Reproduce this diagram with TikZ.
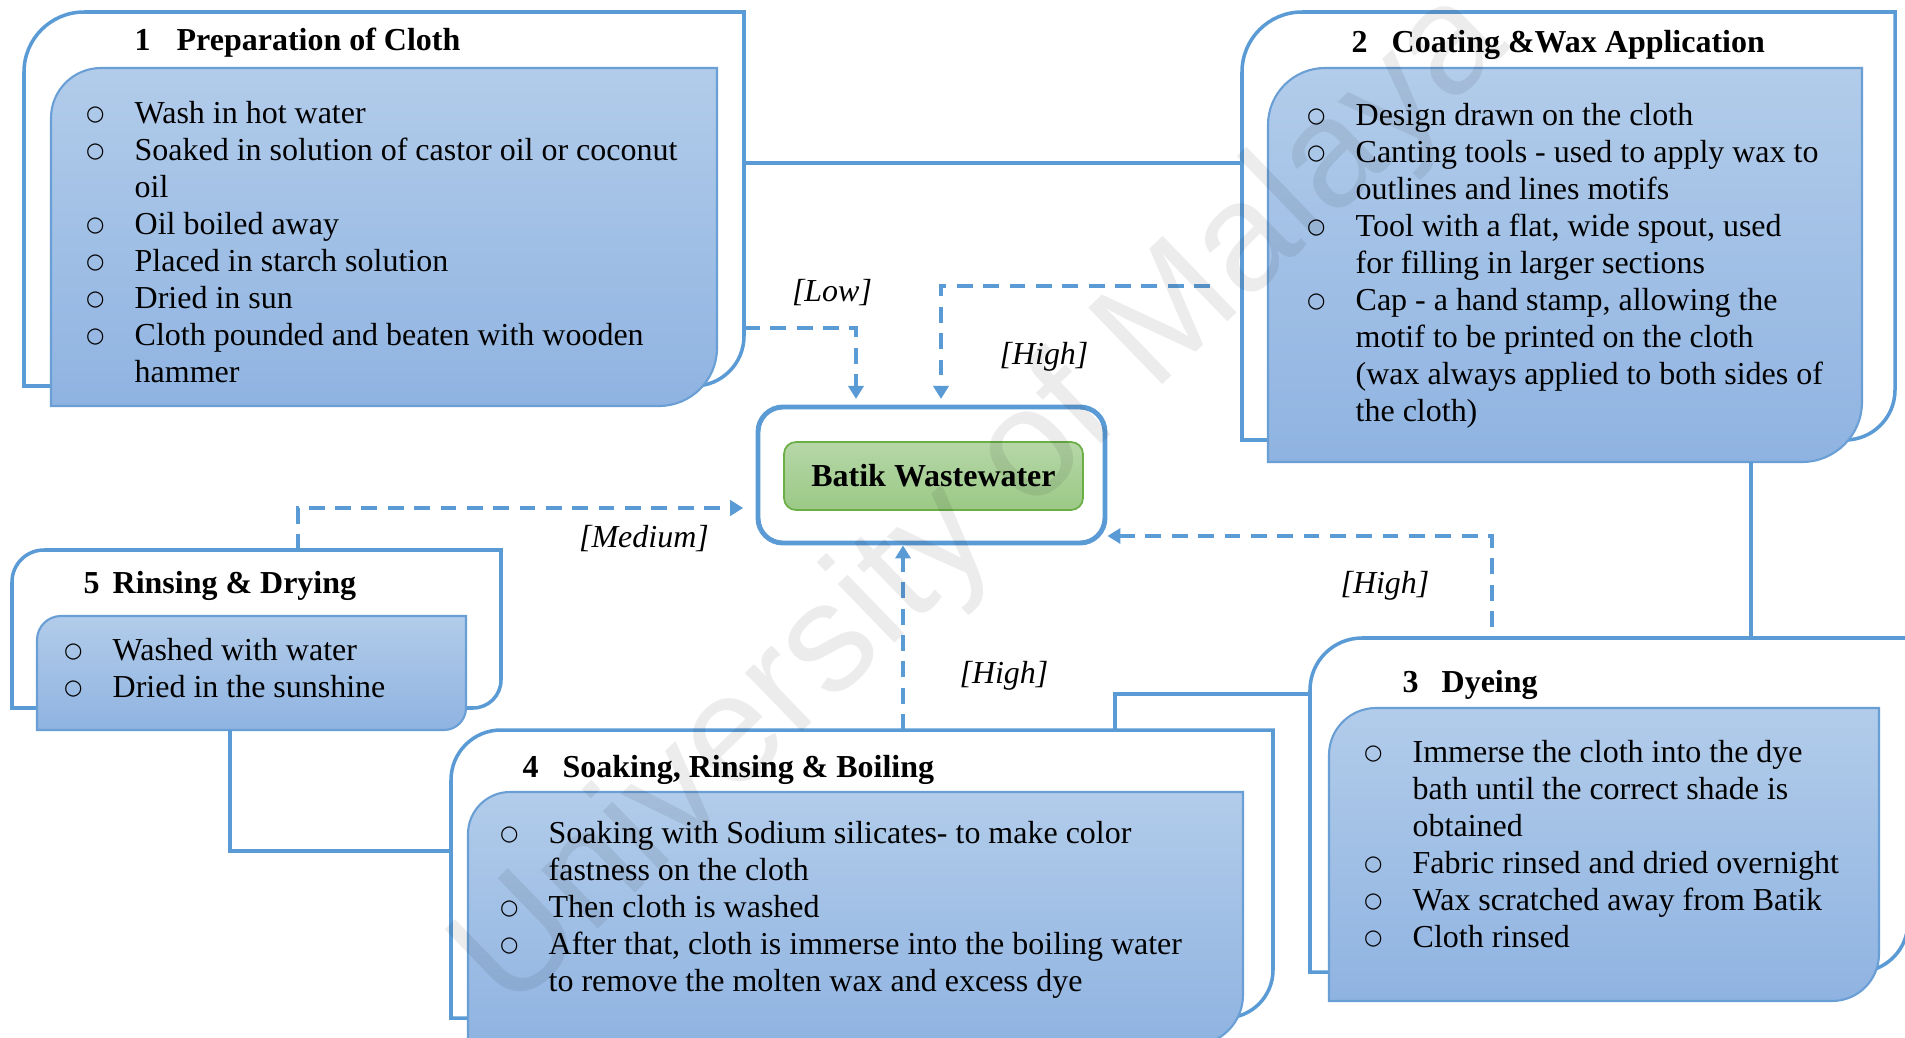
\documentclass[tikz,border=0pt]{standalone}
\usepackage{fontspec}
\setmainfont{Liberation Serif}
\newfontfamily\bulletfont{DejaVu Sans}
\newfontfamily\wmfont{Liberation Sans}
\usetikzlibrary{arrows.meta,fit,calc}
\definecolor{frameblue}{HTML}{5B9BD5}
\definecolor{innerborder}{HTML}{6A9FD6}
\definecolor{gradtop}{HTML}{B2CCEA}
\definecolor{gradbot}{HTML}{8FB3E1}
\definecolor{greentop}{HTML}{B6D7A8}
\definecolor{greenbot}{HTML}{9BC986}
\definecolor{greenborder}{HTML}{6AAE45}
\newcommand\bul{\makebox[4.86mm][l]{\raisebox{0.6pt}{\bulletfont\fontsize{6}{7}\selectfont ○}}}
% name, x1, y1, x2, y2, r1 (top-left), r2 (bottom-right), style
\newcommand\cardshape[8]{%
  \path[#8] (#2,#5) -- (#2,#3+#6) arc(180:270:#6) -- (#4,#3) -- (#4,#5-#7) arc(0:90:#7) -- cycle;
  \node[fit={(#2,#3) (#4,#5)}, inner sep=0pt, outer sep=0pt] (#1) {};
}
\begin{document}
\begin{tikzpicture}[x=0.1mm, y=-0.1mm,
  cardframe/.style={draw=frameblue, line width=1pt, fill=white},
  cardinner/.style={draw=innerborder, line width=0.6pt, top color=gradtop, bottom color=gradbot},
  conn/.style={draw=frameblue, line width=1.3pt},
  dconn/.style={draw=frameblue, line width=0.95pt, dash pattern=on 4.5pt off 3pt,
    -{Triangle[length=3.7pt,width=4.3pt]}},
  body/.style={anchor=base west, inner sep=0pt, font=\fontsize{9.1}{10.53}\selectfont},
  ttl/.style={anchor=base west, inner sep=0pt, font=\bfseries\fontsize{9.1}{10.53}\selectfont},
  lbl/.style={inner sep=0pt, font=\itshape\fontsize{9.1}{10.53}\selectfont}]
\useasboundingbox (0,0) rectangle (1905,1038);
\clip (0,0) rectangle (1905,1038);
\fill[white] (0,0) rectangle (1905,1038);

% step cards
\cardshape{b1}{24}{12}{744}{386}{60}{50}{cardframe}
\cardshape{b1i}{51}{68}{717}{406}{50}{58}{cardinner}
\cardshape{b2}{1242}{12}{1895}{440}{60}{50}{cardframe}
\cardshape{b2i}{1268}{68}{1862}{462}{57}{60}{cardinner}
\cardshape{b3}{1310}{638}{1908}{972}{52}{50}{cardframe}
\cardshape{b3i}{1329}{708}{1879}{1001}{47}{47}{cardinner}
\cardshape{b4}{451}{730}{1273}{1018}{50}{48}{cardframe}
\cardshape{b4i}{468}{792}{1243}{1045}{42}{50}{cardinner}
\cardshape{b5}{12}{550}{501}{708}{32}{28}{cardframe}
\cardshape{b5i}{37}{616}{466}{730}{24}{22}{cardinner}

% centre
\node[draw=frameblue, line width=1.4pt, rounded corners=2.5mm, fill=white,
      minimum width=34.7mm, minimum height=13.6mm, inner sep=0pt] (ww) at (931.5,475) {};
\node[draw=greenborder, line width=0.5pt, rounded corners=1.2mm, top color=greentop, bottom color=greenbot,
      minimum width=29.9mm, minimum height=6.8mm, inner sep=0pt,
      font=\bfseries\fontsize{9.1}{10.53}\selectfont] (bw) at (933.5,476) {Batik Wastewater};

% solid connectors
\draw[conn] (b1.east |- 0,163) -- (b2.west |- 0,163);
\draw[conn] (1751,0 |- b2i.south) -- (1751,0 |- b3.north);
\draw[conn] (b3.west |- 0,694) -| (1115,0 |- b4.north);
\draw[conn] (b4.west |- 0,851) -| (230,0 |- b5i.south);

% dashed connectors
\coordinate (h2s) at (1210,286);
\coordinate (h3s) at (1492,627);
\draw[dconn, shorten >=1.6pt] (b1.east |- 0,328) -| (856,0 |- ww.north);
\draw[dconn, shorten >=1.6pt] (h2s) -| (941,0 |- ww.north);
\draw[dconn, shorten >=3.5pt] (298,0 |- b5.north) |- (ww.west |- 0,508);
\draw[dconn] (903,0 |- b4.north) -- (903,0 |- ww.south);
\draw[dconn] (h3s) |- (ww.east |- 0,536);

% labels
\node[lbl] (lLow) at (832,293) {[Low]};
\node[lbl] (lHighA) at (1044,357) {[High]};
\node[lbl] (lMed) at (644,539) {[Medium]};
\node[lbl] (lHighB) at (1004,676) {[High]};
\node[lbl] (lHighC) at (1385,586) {[High]};

% titles
\node[ttl] (t1) at (134,50) {\makebox[4.2mm][l]{1}Preparation of Cloth};
\node[ttl] (t2) at (1351,52) {\makebox[4.0mm][l]{2}Coating \&Wax Application};
\node[ttl] (t3) at (1402,692) {\makebox[3.9mm][l]{3}Dyeing};
\node[ttl] (t4) at (522,777) {\makebox[4.0mm][l]{4}Soaking, Rinsing \& Boiling};
\node[ttl] (t5) at (83,593) {\makebox[2.9mm][l]{5}Rinsing \& Drying};

% bodies
\node[body] (x1) at (85.4,123) {\begin{tabular}[t]{@{}l@{}l@{}}
\bul & Wash in hot water\\
\bul & Soaked in solution of castor oil or coconut\\
 & oil\\
\bul & Oil boiled away\\
\bul & Placed in starch solution\\
\bul & Dried in sun\\
\bul & Cloth pounded and beaten with wooden\\
 & hammer
\end{tabular}};
\node[body] (x2) at (1306.4,125) {\begin{tabular}[t]{@{}l@{}l@{}}
\bul & Design drawn on the cloth\\
\bul & Canting tools - used to apply wax to\\
 & outlines and lines motifs\\
\bul & Tool with a flat, wide spout, used\\
 & for filling in larger sections\\
\bul & Cap - a hand stamp, allowing the\\
 & motif to be printed on the cloth\\
 & (wax always applied to both sides of\\
 & the cloth)
\end{tabular}};
\node[body] (x3) at (1363.4,762) {\begin{tabular}[t]{@{}l@{}l@{}}
\bul & Immerse the cloth into the dye\\
 & bath until the correct shade is\\
 & obtained\\
\bul & Fabric rinsed and dried overnight\\
\bul & Wax scratched away from Batik\\
\bul & Cloth rinsed
\end{tabular}};
\node[body] (x4) at (499.4,843) {\begin{tabular}[t]{@{}l@{}l@{}}
\bul & Soaking with Sodium silicates- to make color\\
 & fastness on the cloth\\
\bul & Then cloth is washed\\
\bul & After that, cloth is immerse into the boiling water\\
 & to remove the molten wax and excess dye
\end{tabular}};
\node[body] (x5) at (63.4,660) {\begin{tabular}[t]{@{}l@{}l@{}}
\bul & Washed with water\\
\bul & Dried in the sunshine
\end{tabular}};

% watermark
\node[rotate=44, anchor=base west, inner sep=0pt, text=black, text opacity=0.075,
      font=\wmfont\fontsize{44}{44}\selectfont] (wm) at (510,1015) {University of Malaya};
\end{tikzpicture}
\end{document}
